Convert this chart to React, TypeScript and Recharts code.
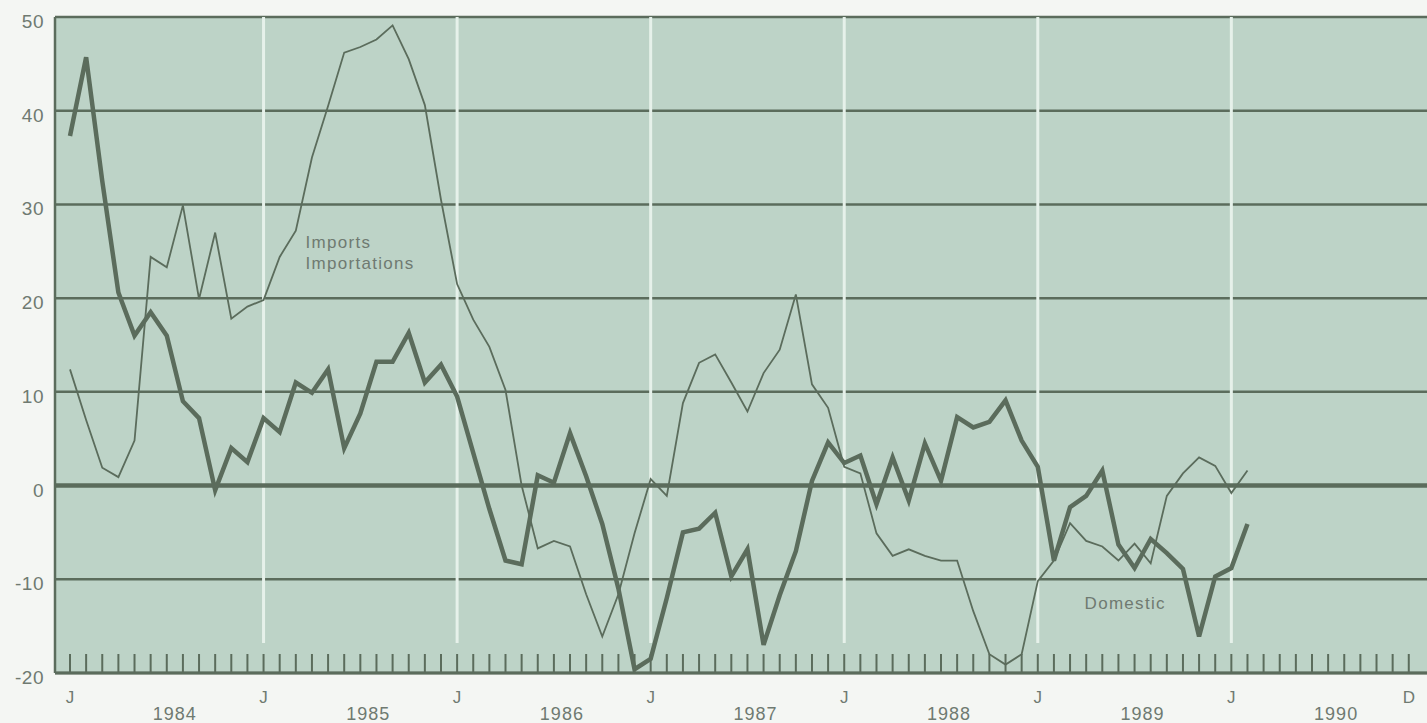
import { LineChart, Line, XAxis, YAxis, CartesianGrid, ReferenceLine, ReferenceDot } from 'recharts';

// monthly % change, Jan 1984 onwards
const domestic = [
  37.3, 45.7, 32.5, 20.6, 16, 18.5, 16, 9, 7.2, -0.5, 4, 2.5,
  7.2, 5.7, 11, 9.9, 12.4, 4, 7.7, 13.2, 13.2, 16.3, 11, 12.9,
  9.5, 3.5, -2.5, -8, -8.4, 1.1, 0.3, 5.6, 1, -4.1, -11, -19.6,
  -18.5, -12, -5, -4.6, -2.9, -9.7, -6.8, -17, -11.7, -7, 0.5, 4.6,
  2.4, 3.2, -2, 3, -1.6, 4.5, 0.5, 7.3, 6.2, 6.8, 9.1, 4.8,
  2, -8, -2.3, -1.1, 1.6, -6.3, -8.8, -5.7, -7.2, -8.9, -16.1, -9.7,
  -8.8, -4.1,
];

const imports = [
  12.4, 7, 1.9, 0.9, 4.8, 24.4, 23.3, 29.9, 19.9, 27, 17.8, 19.1,
  19.8, 24.4, 27.2, 35, 40.5, 46.2, 46.8, 47.6, 49.1, 45.5, 40.6, 30.5,
  21.5, 17.7, 14.8, 10.2, 0, -6.7, -5.9, -6.5, -11.6, -16.1, -11.6, -5.1,
  0.7, -1.1, 8.8, 13.1, 14, 11, 7.9, 12, 14.5, 20.4, 10.8, 8.3,
  2, 1.3, -5.1, -7.5, -6.8, -7.5, -8, -8, -13.4, -18, -19.1, -18,
  -10.2, -8, -4, -5.9, -6.5, -8, -6.2, -8.3, -1.1, 1.3, 3, 2.1,
  -0.8, 1.6,
];

const years = ['1984', '1985', '1986', '1987', '1988', '1989', '1990'];
const yTicks = [-20, -10, 0, 10, 20, 30, 40, 50];
const monthTicks = Array.from({ length: 84 }, (_, i) => i);
const janLines = [12, 24, 36, 48, 60, 72];

const data = domestic.map((d, i) => ({ m: i, domestic: d, imports: imports[i] }));

const INK = '#5b6c5c';
const TEXT = '#6f7a71';
const FONT = '"Liberation Sans", Arial, sans-serif';

const MonthTick = ({ x, y, payload }: any) => {
  const m = payload.value;
  return (
    <g>
      <line x1={x} y1={y} x2={x} y2={y - 19} stroke={INK} strokeWidth={2} />
      {m % 12 === 0 && (
        <text x={x} y={y + 30} textAnchor="middle" fill={TEXT} fontSize={17} fontFamily={FONT}>J</text>
      )}
      {m === 83 && (
        <text x={x} y={y + 30} textAnchor="middle" fill={TEXT} fontSize={17} fontFamily={FONT}>D</text>
      )}
      {m % 12 === 6 && (
        <text x={x + 8} y={y + 47} textAnchor="middle" fill={TEXT} fontSize={18} letterSpacing={1} fontFamily={FONT}>
          {years[Math.floor(m / 12)]}
        </text>
      )}
    </g>
  );
};

const ValueTick = ({ x, y, payload }: any) => (
  <text x={x} y={y + 11} textAnchor="end" fill={TEXT} fontSize={19} letterSpacing={0.5} fontFamily={FONT}>
    {payload.value}
  </text>
);

const NoteLabel = ({ viewBox, value }: any) => (
  <text x={viewBox.x} y={viewBox.y + 6} fill={TEXT} fontSize={17} letterSpacing={1.3} fontFamily={FONT}>
    {value}
  </text>
);

export default function App() {
  return (
    <div style={{ position: 'absolute', left: 0, top: 0, width: 1427, height: 723, background: '#f4f6f3' }}>
      <LineChart width={1427} height={723} data={data} margin={{ top: 17, right: 0, bottom: 0, left: 0 }}>
        <CartesianGrid vertical={false} fill="#bdd3c7" stroke={INK} strokeWidth={2.5} fillOpacity={1} />
        {janLines.map((m) => (
          <ReferenceLine
            key={m}
            segment={[{ x: m, y: 50 }, { x: m, y: -16.8 }]}
            stroke="#e6f1ea"
            strokeWidth={3}
          />
        ))}
        <ReferenceLine y={0} stroke={INK} strokeWidth={4.5} />
        <XAxis
          dataKey="m"
          type="number"
          domain={[-0.93, 84.13]}
          allowDataOverflow
          ticks={monthTicks}
          interval={0}
          tick={<MonthTick />}
          tickLine={false}
          tickSize={0}
          tickMargin={0}
          height={50}
          axisLine={{ stroke: INK, strokeWidth: 3 }}
        />
        <YAxis
          type="number"
          domain={[-20, 50]}
          ticks={yTicks}
          interval={0}
          width={55}
          tick={<ValueTick />}
          tickLine={false}
          tickSize={0}
          tickMargin={11}
          axisLine={{ stroke: INK, strokeWidth: 2.5 }}
        />
        <Line
          dataKey="imports"
          stroke={INK}
          strokeWidth={1.8}
          dot={false}
          isAnimationActive={false}
          strokeLinejoin="miter"
        />
        <Line
          dataKey="domestic"
          stroke={INK}
          strokeWidth={4.5}
          dot={false}
          isAnimationActive={false}
          strokeLinejoin="miter"
        />
        <ReferenceDot x={14.6} y={26} r={0} stroke="none" fill="none" label={<NoteLabel value="Imports" />} />
        <ReferenceDot x={14.6} y={23.8} r={0} stroke="none" fill="none" label={<NoteLabel value="Importations" />} />
        <ReferenceDot x={62.9} y={-12.5} r={0} stroke="none" fill="none" label={<NoteLabel value="Domestic" />} />
      </LineChart>
    </div>
  );
}
